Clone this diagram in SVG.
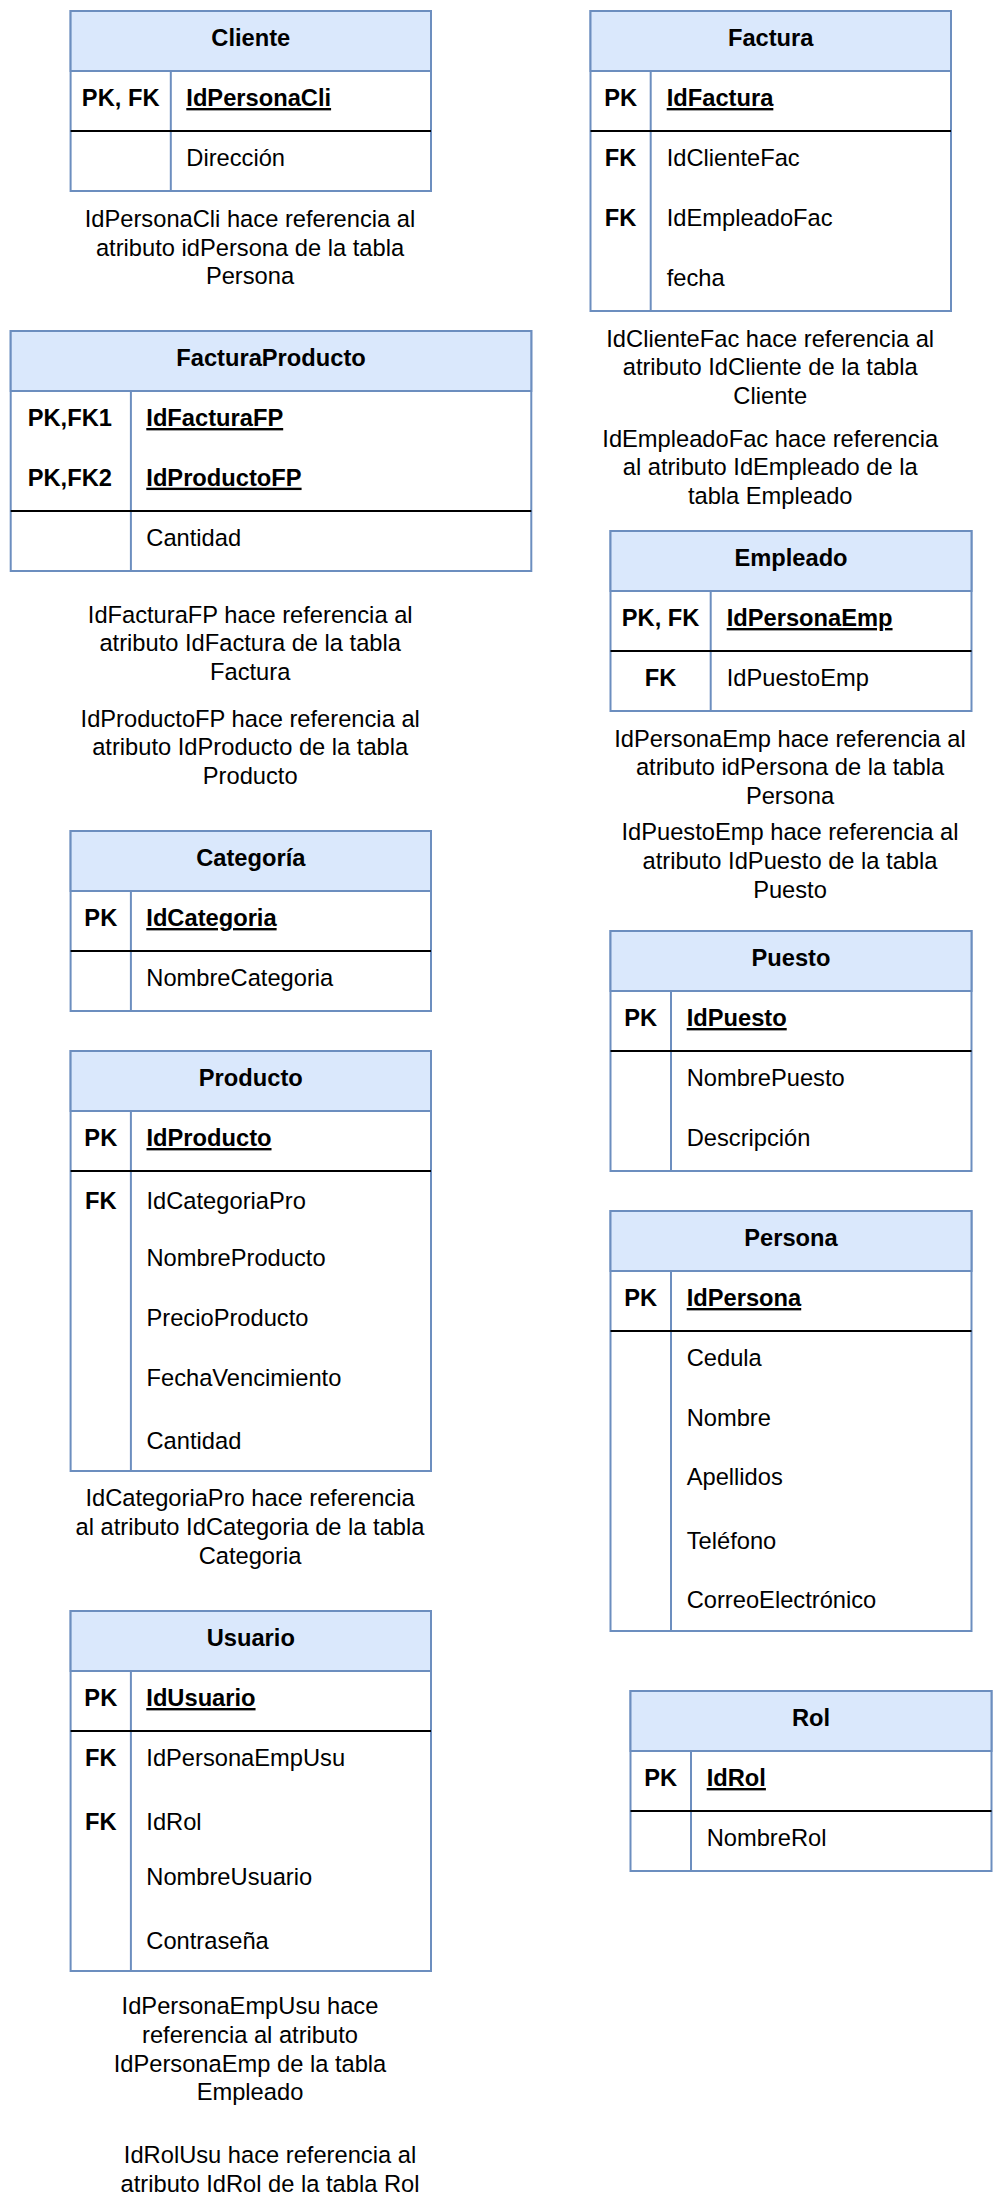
<svg xmlns="http://www.w3.org/2000/svg" width="1002" height="2212" viewBox="0 0 1002 2212">
<style>
text{font-family:"Liberation Sans",Arial,sans-serif;font-size:23.7px;fill:#000}
.t{font-weight:bold;text-anchor:middle}
.k{font-weight:bold;text-anchor:middle}
.pk{font-weight:bold;text-decoration:underline}
.n{text-anchor:middle}
.box{fill:#fff;stroke:#6c8ebf;stroke-width:2}
.hd{fill:#dae8fc;stroke:#6c8ebf;stroke-width:2}
.col{stroke:#6c8ebf;stroke-width:2}
.sep{stroke:#000;stroke-width:2}
</style>
<rect width="1002" height="2212" fill="#fff"/>
<g id="connectors"></g>

<g id="cliente">
<rect class="box" x="70.6" y="11" width="360.4" height="180"/>
<rect class="hd" x="70.6" y="11" width="360.4" height="60"/>
<line class="col" x1="170.8" y1="71" x2="170.8" y2="191"/>
<line class="sep" x1="70.6" y1="131" x2="431" y2="131"/>
<text class="t" x="250.8" y="46">Cliente</text>
<text class="k" x="120.7" y="106">PK, FK</text>
<text class="pk" x="186.3" y="106">IdPersonaCli</text>
<text x="186.3" y="165.7">Dirección</text>
</g>
<g id="nota-cliente">
<text class="n" x="250" y="226.7">IdPersonaCli hace referencia al</text>
<text class="n" x="250" y="255.5">atributo idPersona de la tabla</text>
<text class="n" x="250" y="284.3">Persona</text>
</g>

<g id="factura">
<rect class="box" x="590.5" y="11" width="360.5" height="300"/>
<rect class="hd" x="590.5" y="11" width="360.5" height="60"/>
<line class="col" x1="650.7" y1="71" x2="650.7" y2="311"/>
<line class="sep" x1="590.5" y1="131" x2="951" y2="131"/>
<text class="t" x="770.7" y="46">Factura</text>
<text class="k" x="620.6" y="106">PK</text>
<text class="pk" x="666.7" y="106">IdFactura</text>
<text class="k" x="620.6" y="165.7">FK</text>
<text x="666.7" y="165.7">IdClienteFac</text>
<text class="k" x="620.6" y="225.7">FK</text>
<text x="666.7" y="225.7">IdEmpleadoFac</text>
<text x="666.7" y="285.7">fecha</text>
</g>
<g id="nota-factura">
<text class="n" x="770.2" y="346.7">IdClienteFac hace referencia al</text>
<text class="n" x="770.2" y="375.3">atributo IdCliente de la tabla</text>
<text class="n" x="770.2" y="404">Cliente</text>
<text class="n" x="770.2" y="446.7">IdEmpleadoFac hace referencia</text>
<text class="n" x="770.2" y="475.3">al atributo IdEmpleado de la</text>
<text class="n" x="770.2" y="504">tabla Empleado</text>
</g>

<g id="facturaproducto">
<rect class="box" x="10.7" y="331" width="520.6" height="240"/>
<rect class="hd" x="10.7" y="331" width="520.6" height="60"/>
<line class="col" x1="130.9" y1="391" x2="130.9" y2="571"/>
<line class="sep" x1="10.7" y1="511" x2="531.3" y2="511"/>
<text class="t" x="271" y="365.7">FacturaProducto</text>
<text class="k" x="69.8" y="426">PK,FK1</text>
<text class="pk" x="146.3" y="426">IdFacturaFP</text>
<text class="k" x="69.8" y="485.7">PK,FK2</text>
<text class="pk" x="146.3" y="485.7">IdProductoFP</text>
<text x="146.3" y="546">Cantidad</text>
</g>
<g id="nota-facturaproducto">
<text class="n" x="250.2" y="622.7">IdFacturaFP hace referencia al</text>
<text class="n" x="250.2" y="651.3">atributo IdFactura de la tabla</text>
<text class="n" x="250.2" y="680">Factura</text>
<text class="n" x="250.2" y="726.7">IdProductoFP hace referencia al</text>
<text class="n" x="250.2" y="755.3">atributo IdProducto de la tabla</text>
<text class="n" x="250.2" y="784">Producto</text>
</g>

<g id="empleado">
<rect class="box" x="610.5" y="531" width="361" height="180"/>
<rect class="hd" x="610.5" y="531" width="361" height="60"/>
<line class="col" x1="710.7" y1="591" x2="710.7" y2="711"/>
<line class="sep" x1="610.5" y1="651" x2="971.5" y2="651"/>
<text class="t" x="791" y="565.7">Empleado</text>
<text class="k" x="660.6" y="626">PK, FK</text>
<text class="pk" x="726.7" y="626">IdPersonaEmp</text>
<text class="k" x="660.6" y="685.7">FK</text>
<text x="726.7" y="685.7">IdPuestoEmp</text>
</g>
<g id="nota-empleado">
<text class="n" x="790" y="746.7">IdPersonaEmp hace referencia al</text>
<text class="n" x="790" y="775.3">atributo idPersona de la tabla</text>
<text class="n" x="790" y="804">Persona</text>
<text class="n" x="790" y="840">IdPuestoEmp hace referencia al</text>
<text class="n" x="790" y="868.7">atributo IdPuesto de la tabla</text>
<text class="n" x="790" y="897.7">Puesto</text>
</g>

<g id="categoria">
<rect class="box" x="70.6" y="831" width="360.4" height="180"/>
<rect class="hd" x="70.6" y="831" width="360.4" height="60"/>
<line class="col" x1="130.9" y1="891" x2="130.9" y2="1011"/>
<line class="sep" x1="70.6" y1="951" x2="431" y2="951"/>
<text class="t" x="250.8" y="865.7">Categoría</text>
<text class="k" x="100.8" y="926">PK</text>
<text class="pk" x="146.3" y="926">IdCategoria</text>
<text x="146.3" y="985.7">NombreCategoria</text>
</g>

<g id="producto">
<rect class="box" x="70.6" y="1051" width="360.4" height="420"/>
<rect class="hd" x="70.6" y="1051" width="360.4" height="60"/>
<line class="col" x1="130.9" y1="1111" x2="130.9" y2="1471"/>
<line class="sep" x1="70.6" y1="1171" x2="431" y2="1171"/>
<text class="t" x="250.8" y="1085.7">Producto</text>
<text class="k" x="100.8" y="1146">PK</text>
<text class="pk" x="146.5" y="1146">IdProducto</text>
<text class="k" x="100.8" y="1209.3">FK</text>
<text x="146.5" y="1209.3">IdCategoriaPro</text>
<text x="146.5" y="1265.7">NombreProducto</text>
<text x="146.5" y="1325.7">PrecioProducto</text>
<text x="146.5" y="1385.7">FechaVencimiento</text>
<text x="146.5" y="1449">Cantidad</text>
</g>
<g id="nota-producto">
<text class="n" x="250" y="1506">IdCategoriaPro hace referencia</text>
<text class="n" x="250" y="1535">al atributo IdCategoria de la tabla</text>
<text class="n" x="250" y="1563.7">Categoria</text>
</g>

<g id="puesto">
<rect class="box" x="610.5" y="931" width="361" height="240"/>
<rect class="hd" x="610.5" y="931" width="361" height="60"/>
<line class="col" x1="671" y1="991" x2="671" y2="1171"/>
<line class="sep" x1="610.5" y1="1051" x2="971.5" y2="1051"/>
<text class="t" x="791" y="965.7">Puesto</text>
<text class="k" x="640.7" y="1026">PK</text>
<text class="pk" x="686.7" y="1026">IdPuesto</text>
<text x="686.7" y="1085.7">NombrePuesto</text>
<text x="686.7" y="1145.7">Descripción</text>
</g>

<g id="persona">
<rect class="box" x="610.5" y="1211" width="361" height="420"/>
<rect class="hd" x="610.5" y="1211" width="361" height="60"/>
<line class="col" x1="671" y1="1271" x2="671" y2="1631"/>
<line class="sep" x1="610.5" y1="1331" x2="971.5" y2="1331"/>
<text class="t" x="791" y="1245.7">Persona</text>
<text class="k" x="640.7" y="1306">PK</text>
<text class="pk" x="686.7" y="1306">IdPersona</text>
<text x="686.7" y="1365.7">Cedula</text>
<text x="686.7" y="1425.7">Nombre</text>
<text x="686.7" y="1485">Apellidos</text>
<text x="686.7" y="1549">Teléfono</text>
<text x="686.7" y="1608.3">CorreoElectrónico</text>
</g>

<g id="usuario">
<rect class="box" x="70.6" y="1611" width="360.4" height="360"/>
<rect class="hd" x="70.6" y="1611" width="360.4" height="60"/>
<line class="col" x1="130.9" y1="1671" x2="130.9" y2="1971"/>
<line class="sep" x1="70.6" y1="1731" x2="431" y2="1731"/>
<text class="t" x="250.8" y="1645.7">Usuario</text>
<text class="k" x="100.8" y="1706">PK</text>
<text class="pk" x="146.3" y="1706">IdUsuario</text>
<text class="k" x="100.8" y="1765.7">FK</text>
<text x="146.3" y="1765.7">IdPersonaEmpUsu</text>
<text class="k" x="100.8" y="1830">FK</text>
<text x="146.3" y="1830">IdRol</text>
<text x="146.3" y="1885">NombreUsuario</text>
<text x="146.3" y="1949.3">Contraseña</text>
</g>
<g id="nota-usuario">
<text class="n" x="250" y="2014.3">IdPersonaEmpUsu hace</text>
<text class="n" x="250" y="2042.7">referencia al atributo</text>
<text class="n" x="250" y="2071.7">IdPersonaEmp de la tabla</text>
<text class="n" x="250" y="2100">Empleado</text>
<text class="n" x="270" y="2163.3">IdRolUsu hace referencia al</text>
<text class="n" x="270" y="2191.7">atributo IdRol de la tabla Rol</text>
</g>

<g id="rol">
<rect class="box" x="630.5" y="1691" width="361" height="180"/>
<rect class="hd" x="630.5" y="1691" width="361" height="60"/>
<line class="col" x1="691" y1="1751" x2="691" y2="1871"/>
<line class="sep" x1="630.5" y1="1811" x2="991.5" y2="1811"/>
<text class="t" x="811" y="1725.7">Rol</text>
<text class="k" x="660.7" y="1786">PK</text>
<text class="pk" x="706.7" y="1786">IdRol</text>
<text x="706.7" y="1845.7">NombreRol</text>
</g>
</svg>
